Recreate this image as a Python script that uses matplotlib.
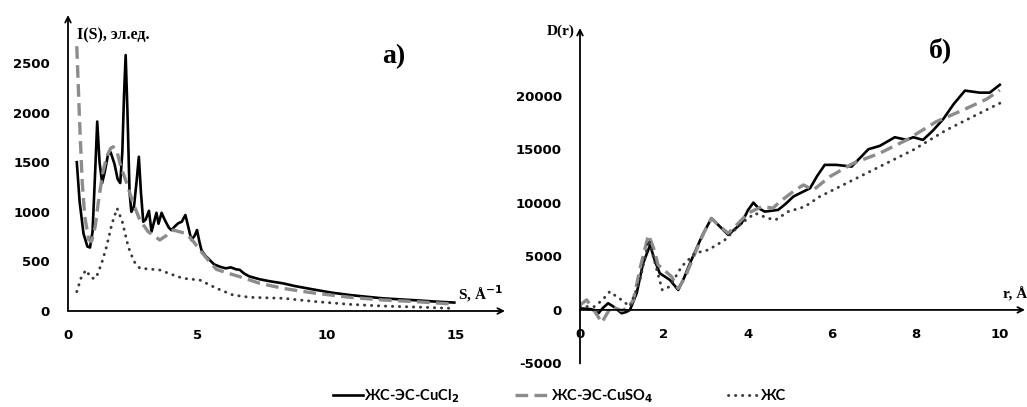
import matplotlib
matplotlib.use("Agg")
import matplotlib.pyplot as plt
from matplotlib.lines import Line2D

plt.rcParams['axes.unicode_minus'] = False

# ---- panel a): I(S) ----
s_cucl2 = [0.34, 0.45, 0.6, 0.75, 0.85, 0.95, 1.05, 1.13, 1.22, 1.32, 1.42, 1.55, 1.65, 1.8, 1.92,
           2.02, 2.1, 2.17, 2.23, 2.3, 2.38, 2.45, 2.55, 2.65, 2.74, 2.82, 2.91, 3.0, 3.13, 3.23,
           3.33, 3.42, 3.5, 3.62, 3.72, 3.81, 3.9, 4.0, 4.12, 4.26, 4.4, 4.54, 4.65, 4.77, 4.9,
           4.99, 5.08, 5.16, 5.3, 5.48, 5.65, 5.87, 6.1, 6.3, 6.5, 6.64, 6.8, 7.0, 7.41, 7.8,
           8.31, 8.8, 9.6, 10.2, 10.9, 11.5, 12.17, 12.8, 13.46, 14.2, 14.94]
i_cucl2 = [1500, 1100, 780, 650, 640, 800, 1400, 1910, 1500, 1290, 1400, 1580, 1600, 1480, 1330,
           1290, 1600, 2200, 2580, 2000, 1200, 1000, 1050, 1300, 1555, 1200, 900, 920, 1010, 800,
           900, 990, 880, 990, 930, 884, 840, 815, 850, 884, 900, 968, 850, 716, 760,
           816, 700, 615, 560, 514, 470, 447, 430, 440, 420, 415, 380, 350, 320, 300,
           279, 250, 212, 185, 161, 145, 128, 118, 108, 95, 85]

s_cuso4 = [0.34, 0.45, 0.55, 0.65, 0.8, 0.91, 1.05, 1.2, 1.35, 1.5, 1.65, 1.75, 1.9, 2.05, 2.27,
           2.5, 2.78, 3.1, 3.55, 3.8, 4.07, 4.3, 4.58, 4.85, 5.1, 5.4, 5.74, 6.2, 6.64, 7.0,
           7.41, 8.31, 9.0, 9.6, 10.9, 12.17, 13.46, 14.9]
i_cuso4 = [2670, 1900, 1300, 950, 720, 700, 850, 1150, 1400, 1560, 1640, 1656, 1600, 1450, 1290,
           1100, 917, 800, 716, 760, 816, 800, 780, 700, 615, 520, 420, 380, 346, 315,
           279, 229, 200, 178, 138, 111, 94, 70]

s_zhs = [0.34, 0.5, 0.69, 0.91, 1.08, 1.3, 1.49, 1.7, 1.9, 2.1, 2.33, 2.55, 2.78, 3.17, 3.55,
         4.07, 4.45, 5.1, 5.74, 6.38, 7.03, 8.31, 9.6, 10.9, 12.17, 13.46, 14.8]
i_zhs = [195, 330, 413, 330, 330, 480, 648, 880, 1035, 900, 648, 500, 430, 423, 413,
         363, 329, 312, 229, 161, 138, 128, 94, 67, 50, 40, 27]

# ---- panel б): D(r) ----
r_cucl2 = [0, 0.28, 0.44, 0.55, 0.67, 0.8, 0.99, 1.1, 1.19, 1.35, 1.5, 1.67, 1.78, 1.9, 2.14,
           2.34, 2.48, 2.62, 2.9, 3.13, 3.3, 3.53, 3.85, 4.0, 4.13, 4.25, 4.4, 4.72, 4.9, 5.08,
           5.16, 5.48, 5.65, 5.83, 6.11, 6.47, 6.7, 6.87, 7.14, 7.5, 7.78, 7.94, 8.17, 8.4,
           8.65, 8.9, 9.17, 9.52, 9.76, 10.0]
d_cucl2 = [150, 60, -310, 200, 620, 300, -310, -200, 0, 1550, 4300, 6060, 4600, 3420, 2800,
           1860, 3000, 4360, 6840, 8550, 7900, 7000, 8090, 9300, 10010, 9500, 9170, 9330, 9900, 10570,
           10730, 11350, 12500, 13530, 13530, 13370, 14300, 14990, 15300, 16110, 15860, 16110, 15860, 16700,
           17790, 19200, 20460, 20270, 20270, 21000]

r_cuso4 = [0, 0.16, 0.33, 0.52, 0.65, 0.75, 0.99, 1.15, 1.27, 1.45, 1.63, 1.75, 1.86, 2.18, 2.34,
           2.5, 2.74, 2.95, 3.13, 3.3, 3.53, 3.8, 4.0, 4.33, 4.6, 4.76, 5.08, 5.32, 5.56, 5.95,
           6.51, 7.14, 7.78, 8.49, 9.13, 9.68, 10.0]
d_cuso4 = [460, 930, 0, -1180, -300, 310, -60, 200, 930, 4200, 7000, 5800, 4200, 3110, 2000,
           3000, 5290, 7200, 8550, 7900, 7150, 8200, 9020, 9640, 9500, 10100, 11040, 11660, 11190, 12430,
           13680, 14620, 15860, 17570, 18660, 19650, 20500]

r_zhs = [0, 0.35, 0.55, 0.71, 0.85, 0.99, 1.19, 1.43, 1.64, 1.83, 1.96, 2.14, 2.42, 2.74, 3.06,
         3.45, 3.85, 4.17, 4.48, 4.66, 4.96, 5.36, 5.71, 6.35, 7.14, 7.94, 8.73, 9.52, 10.0]
d_zhs = [310, 310, 1000, 1710, 1300, 930, 310, 2800, 6530, 3730, 1860, 2180, 4040, 5290, 5600,
         6530, 8090, 9020, 8550, 8400, 9170, 9640, 10570, 11820, 13370, 14930, 16790, 18350, 19280]

labels = ['ЖС-ЭС-CuCl$_\\mathbf{2}$', 'ЖС-ЭС-CuSO$_\\mathbf{4}$', 'ЖС']

solid = dict(color='black', lw=1.9, linestyle='-')
dashed = dict(color='#8c8c8c', lw=2.4, linestyle=(0, (3.8, 1.9)))
dotted = dict(color='#3a3a3a', lw=2.1, linestyle=(0, (0.1, 2.3)), dash_capstyle='round')
styles = [solid, dashed, dotted]

tick_font = dict(family='DejaVu Sans', weight='bold', size=9.5)
serif = dict(family='Liberation Serif', weight='bold')

fig = plt.figure(figsize=(10.27, 4.07), dpi=100)

# left panel
ax1 = fig.add_axes([68 / 1027, 96 / 407, 437 / 1027, 296 / 407])
ax1.plot(s_cucl2, i_cucl2, **solid)
ax1.plot(s_cuso4, i_cuso4, **dashed)
ax1.plot(s_zhs, i_zhs, **dotted)
ax1.set_xlim(0, 16.9)
ax1.set_ylim(0, 2984)
ax1.set_xticks([0, 5, 10, 15])
ax1.set_yticks([0, 500, 1000, 1500, 2000, 2500])
for sp in ax1.spines.values():
    sp.set_visible(False)
ax1.tick_params(length=0, pad=13)
for lab in ax1.get_xticklabels() + ax1.get_yticklabels():
    lab.set(**tick_font)
ax1.annotate('', xy=(1, 0), xytext=(0, 0), xycoords='axes fraction',
             arrowprops=dict(arrowstyle='->', lw=1.3, color='black', shrinkA=0, shrinkB=0))
ax1.annotate('', xy=(0, 1), xytext=(0, 0), xycoords='axes fraction',
             arrowprops=dict(arrowstyle='->', lw=1.3, color='black', shrinkA=0, shrinkB=0))
ax1.text(0.02, 0.93, 'I(S), эл.ед.', transform=ax1.transAxes, fontsize=11.5, va='center', **serif)
ax1.text(0.995, 0.06, 'S, Å$^{\\mathbf{-1}}$', transform=ax1.transAxes, fontsize=11,
         ha='right', va='center', **serif)
ax1.text(0.745, 0.86, 'а)', transform=ax1.transAxes, fontsize=20, ha='center', va='center', **serif)

# right panel
ax2 = fig.add_axes([580 / 1027, 43.5 / 407, 445 / 1027, 335.5 / 407])
ax2.plot(r_cucl2, d_cucl2, **solid)
ax2.plot(r_cuso4, d_cuso4, **dashed)
ax2.plot(r_zhs, d_zhs, **dotted)
ax2.set_xlim(0, 10.6)
ax2.set_ylim(-5000, 26300)
ax2.set_xticks([0, 2, 4, 6, 8, 10])
ax2.set_yticks([-5000, 0, 5000, 10000, 15000, 20000])
ax2.spines['top'].set_visible(False)
ax2.spines['right'].set_visible(False)
ax2.spines['left'].set_visible(False)
ax2.spines['bottom'].set_position(('data', 0))
ax2.spines['bottom'].set_visible(False)
ax2.tick_params(length=0, pad=13)
for lab in ax2.get_xticklabels() + ax2.get_yticklabels():
    lab.set(**tick_font)
ax2.annotate('', xy=(1, 0), xytext=(0, 0), xycoords=('axes fraction', 'data'),
             arrowprops=dict(arrowstyle='->', lw=1.3, color='black', shrinkA=0, shrinkB=0))
ax2.annotate('', xy=(0, 1), xytext=(0, 0), xycoords='axes fraction',
             arrowprops=dict(arrowstyle='->', lw=1.3, color='black', shrinkA=0, shrinkB=0))
ax2.text(-0.012, 0.99, 'D(r)', transform=ax2.transAxes, fontsize=11, ha='right', va='center', **serif)
ax2.text(1.005, 0.205, 'r, Å', transform=ax2.transAxes, fontsize=11, ha='right', va='center', **serif)
ax2.text(0.81, 0.935, 'б)', transform=ax2.transAxes, fontsize=20, ha='center', va='center', **serif)

# legend along the bottom, one entry at a time
leg_x = [333, 515, 728]
leg_len = [30, 35, 32]
for x0, ln, lab, st in zip(leg_x, leg_len, labels, styles):
    fig.add_artist(Line2D([x0 / 1027, (x0 + ln) / 1027], [12 / 407, 12 / 407],
                          transform=fig.transFigure, **st))
    fig.text((x0 + ln + 1) / 1027, 11 / 407, lab, fontsize=10.5, family='Lato', weight='bold',
             va='center', ha='left')

fig.savefig('out.png', dpi=100)
